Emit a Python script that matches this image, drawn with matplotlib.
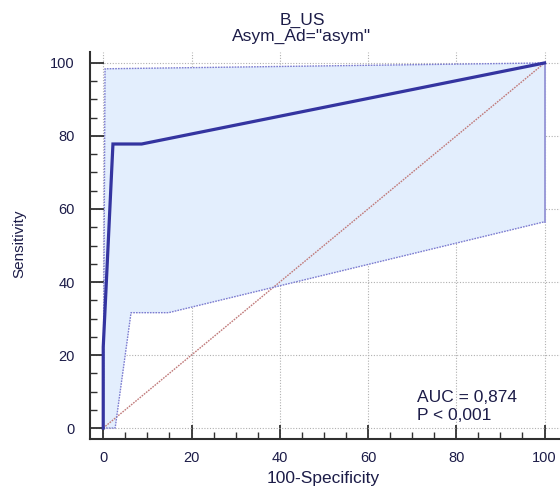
import matplotlib
matplotlib.use("Agg")
import matplotlib.pyplot as plt
from matplotlib.ticker import MultipleLocator

plt.rcParams['font.family'] = ['Liberation Sans', 'DejaVu Sans']

# ROC curve (100-Specificity, Sensitivity)
roc_fpr = [0, 0, 2.2, 8.7, 100]
roc_tpr = [0, 22.2, 77.8, 77.8, 100]

# 95% confidence bounds
upper_fpr = [0, 0.4, 100]
upper_tpr = [0, 98.4, 100]
lower_fpr = [0, 2.7, 6.3, 14.8, 100]
lower_tpr = [0, 0, 31.6, 31.6, 56.5]

auc_text = "AUC = 0,874"
p_text = "P < 0,001"
title_lines = ["B_US", 'Asym_Ad="asym"']

text_color = "#1c1c48"

fig = plt.figure(figsize=(5.6, 4.87), dpi=100)
ax = fig.add_axes([90/560, (487-439)/487, 470/560, 387/487])

# confidence band
poly_x = upper_fpr + lower_fpr[::-1]
poly_y = upper_tpr + lower_tpr[::-1]
ax.fill(poly_x, poly_y, color="#e3eefd", zorder=1, lw=0)
ax.plot(upper_fpr, upper_tpr, color="#7c7cd0", lw=1.0, ls=(0, (1.2, 0.8)), zorder=3)
ax.plot(lower_fpr, lower_tpr, color="#7c7cd0", lw=1.0, ls=(0, (1.2, 0.8)), zorder=3)
ax.plot([upper_fpr[-1], lower_fpr[-1]], [upper_tpr[-1], lower_tpr[-1]],
        color="#9a9ad8", lw=1.4, zorder=3)

# reference diagonal
ax.plot([0, 100], [0, 100], color="#c07a7a", lw=1.0, ls=(0, (1.2, 0.8)), zorder=2)

# ROC curve
ax.plot(roc_fpr, roc_tpr, color="#3434a0", lw=2.3, zorder=4, solid_joinstyle="miter")

ax.set_xlim(-3, 103.5)
ax.set_ylim(-3, 103)
ax.xaxis.set_major_locator(MultipleLocator(20))
ax.xaxis.set_minor_locator(MultipleLocator(5))
ax.yaxis.set_major_locator(MultipleLocator(20))
ax.yaxis.set_minor_locator(MultipleLocator(5))
ax.grid(True, which="major", color="#b0b0b0", lw=0.8, ls=(0, (1, 1.5)), zorder=0)
ax.set_axisbelow(True)

for s in ("top", "right"):
    ax.spines[s].set_visible(False)
for s in ("left", "bottom"):
    ax.spines[s].set_color("#303030")
    ax.spines[s].set_linewidth(1.5)

ax.tick_params(which="major", direction="in", length=10, width=1.3, color="#303030",
               labelsize=10.5, labelcolor=text_color)
ax.tick_params(which="minor", direction="in", length=5, width=1.0, color="#303030")
ax.tick_params(axis="x", which="major", pad=9)
ax.tick_params(axis="y", which="major", pad=11)

# axis titles
fig.text(323/560, 1 - 483/487, "100-Specificity", ha="center", va="baseline",
         fontsize=12.5, color=text_color)
fig.text(19/560, 1 - 244/487, "Sensitivity", ha="center", va="center",
         rotation=90, fontsize=11, color=text_color)

ax.text(71.0, 7.2, auc_text, fontsize=12.5, color=text_color, va="baseline", zorder=5)
ax.text(71.0, 2.2, p_text, fontsize=12.5, color=text_color, va="baseline", zorder=5)

fig.text(302/560, 1 - 25/487, title_lines[0], ha="center", va="baseline",
         fontsize=12.5, color=text_color)
fig.text(302/560, 1 - 40.7/487, title_lines[1], ha="center", va="baseline",
         fontsize=12.5, color=text_color)

fig.savefig("out.png", dpi=100)
